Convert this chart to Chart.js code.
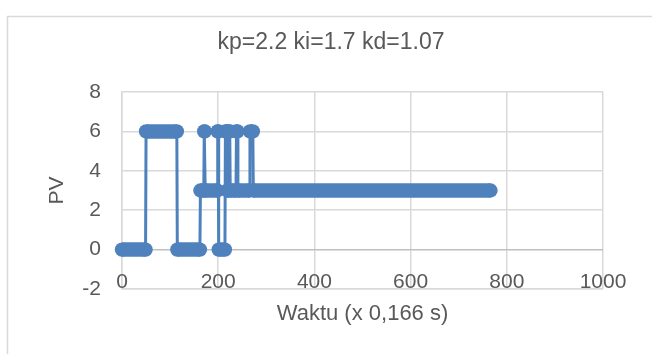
<!DOCTYPE html>
<html>
<head>
<meta charset="utf-8">
<script src="https://cdn.jsdelivr.net/npm/chart.js@4"></script>
<style>
  html, body { margin: 0; padding: 0; background: #fff; }
  #wrap { width: 652px; height: 354px; }
</style>
</head>
<body>
<div id="wrap"><canvas id="myChart" width="652" height="354"></canvas></div>
<script>
// runs of constant PV (sample index, step 0,166 s)
const runStart = [0, 50, 115, 163, 171, 173, 199, 201, 215, 219, 222, 225, 238, 241, 266, 273];
const runEnd   = [49, 114, 162, 170, 172, 198, 200, 214, 218, 221, 224, 237, 240, 265, 272, 766];
const runValue = [0, 6, 0, 3, 6, 3, 6, 0, 6, 3, 6, 3, 6, 3, 6, 3];
const xTicks = [0, 200, 400, 600, 800, 1000];
const yTicks = [-2, 0, 2, 4, 6, 8];
const chartTitle = 'kp=2.2 ki=1.7 kd=1.07';

const blue = '#4f81bd';
const textColor = '#595959';
const font = 'Liberation Sans, Arial, sans-serif';

// thin line through every change
let linePts = [];
// thick band of markers for each run
let bandPts = [];
runStart.forEach((s, i) => {
    linePts.push({x: s, y: runValue[i]});
    linePts.push({x: runEnd[i], y: runValue[i]});
    bandPts.push({x: s, y: runValue[i]});
    bandPts.push({x: runEnd[i], y: runValue[i]});
    bandPts.push({x: runEnd[i], y: null});
});

const framePlugin = {
    id: 'frame',
    beforeDraw(chart) {
        const ctx = chart.ctx;
        ctx.save();
        ctx.fillStyle = '#fff';
        ctx.fillRect(0, 0, chart.width, chart.height);
        ctx.strokeStyle = '#d9d9d9';
        ctx.lineWidth = 1.5;
        ctx.beginPath();
        ctx.moveTo(7.5, chart.height);
        ctx.lineTo(7.5, 16.5);
        ctx.lineTo(chart.width, 16.5);
        ctx.stroke();
        // title
        ctx.fillStyle = textColor;
        ctx.font = '23px ' + font;
        ctx.textAlign = 'center';
        ctx.textBaseline = 'middle';
        ctx.fillText(chartTitle, 331, 43);
        ctx.restore();
    },
    // x labels sit just under the 0 line, inside the plot like Excel
    beforeDatasetsDraw(chart) {
        const ctx = chart.ctx;
        const xs = chart.scales.x;
        ctx.save();
        ctx.fillStyle = textColor;
        ctx.font = '21px ' + font;
        ctx.textAlign = 'center';
        ctx.textBaseline = 'middle';
        xTicks.forEach(v => {
            ctx.fillText(String(v), xs.getPixelForValue(v), 282);
        });
        ctx.restore();
    }
};

let myChart = document.getElementById('myChart').getContext('2d');
let pvChart = new Chart(myChart, {
    type: 'line',
    data: {
        datasets: [{
            label: 'PV',
            data: linePts,
            borderColor: blue,
            borderWidth: 3,
            pointRadius: 0,
            clip: false
        }, {
            label: 'band',
            data: bandPts,
            borderColor: blue,
            backgroundColor: blue,
            borderWidth: 14.5,
            borderCapStyle: 'butt',
            pointRadius: 7.2,
            pointBorderWidth: 0,
            pointBackgroundColor: blue,
            spanGaps: false,
            clip: false
        }]
    },
    options: {
        responsive: false,
        animation: false,
        events: [],
        layout: { padding: { left: 0, right: 49, top: 92, bottom: 0 } },
        plugins: {
            legend: { display: false },
            tooltip: { enabled: false },
            title: { display: false }
        },
        scales: {
            x: {
                type: 'linear',
                min: 0,
                max: 1000,
                afterBuildTicks: s => { s.ticks = xTicks.map(v => ({value: v})); },
                afterFit: s => { s.height = 65; },
                ticks: { display: false },
                grid: { color: '#d9d9d9', lineWidth: 1.5, drawTicks: false },
                border: { color: '#d9d9d9', width: 1.5 },
                title: {
                    display: true,
                    text: 'Waktu (x 0,166 s)',
                    color: textColor,
                    font: { family: font, size: 22 },
                    padding: { top: 0, bottom: 27 }
                }
            },
            y: {
                min: -2,
                max: 8,
                afterBuildTicks: s => { s.ticks = yTicks.map(v => ({value: v})); },
                afterFit: s => { s.width = 122; },
                ticks: {
                    color: textColor,
                    font: { family: font, size: 21 },
                    padding: 21
                },
                grid: {
                    color: c => c.tick && c.tick.value === 0 ? '#bfbfbf' : '#d9d9d9',
                    lineWidth: 1.5,
                    drawTicks: false
                },
                border: { color: '#d9d9d9', width: 1.5 },
                title: {
                    display: true,
                    text: 'PV',
                    color: textColor,
                    font: { family: font, size: 21 },
                    padding: { top: 45, bottom: 0 }
                }
            }
        }
    },
    plugins: [framePlugin]
});
</script>
</body>
</html>
